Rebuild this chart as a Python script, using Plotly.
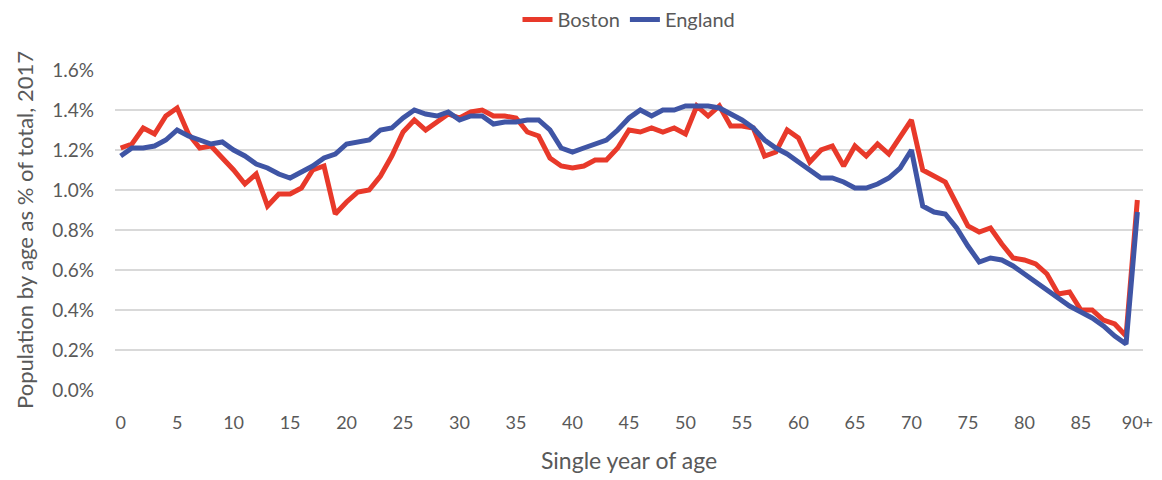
import plotly.graph_objects as go

# Single year of age, 0..89 then 90+
ages = list(range(91))
age_labels = [str(a) for a in range(90)] + ["90+"]

# Share of total population at each age, 2017 (%)
boston = [
    1.21, 1.23, 1.31, 1.28, 1.37, 1.41, 1.28, 1.21, 1.22, 1.16,
    1.10, 1.03, 1.08, 0.92, 0.98, 0.98, 1.01, 1.10, 1.12, 0.88,
    0.94, 0.99, 1.00, 1.07, 1.17, 1.29, 1.35, 1.30, 1.34, 1.38,
    1.36, 1.39, 1.40, 1.37, 1.37, 1.36, 1.29, 1.27, 1.16, 1.12,
    1.11, 1.12, 1.15, 1.15, 1.21, 1.30, 1.29, 1.31, 1.29, 1.31,
    1.28, 1.42, 1.37, 1.42, 1.32, 1.32, 1.31, 1.17, 1.19, 1.30,
    1.26, 1.14, 1.20, 1.22, 1.12, 1.22, 1.17, 1.23, 1.18, 1.27,
    1.35, 1.10, 1.07, 1.04, 0.93, 0.82, 0.79, 0.81, 0.73, 0.66,
    0.65, 0.63, 0.58, 0.48, 0.49, 0.40, 0.40, 0.35, 0.33, 0.27,
    0.95,
]
england = [
    1.17, 1.21, 1.21, 1.22, 1.25, 1.30, 1.27, 1.25, 1.23, 1.24,
    1.20, 1.17, 1.13, 1.11, 1.08, 1.06, 1.09, 1.12, 1.16, 1.18,
    1.23, 1.24, 1.25, 1.30, 1.31, 1.36, 1.40, 1.38, 1.37, 1.39,
    1.35, 1.37, 1.37, 1.33, 1.34, 1.34, 1.35, 1.35, 1.30, 1.21,
    1.19, 1.21, 1.23, 1.25, 1.30, 1.36, 1.40, 1.37, 1.40, 1.40,
    1.42, 1.42, 1.42, 1.41, 1.38, 1.35, 1.31, 1.25, 1.21, 1.18,
    1.14, 1.10, 1.06, 1.06, 1.04, 1.01, 1.01, 1.03, 1.06, 1.11,
    1.20, 0.92, 0.89, 0.88, 0.81, 0.72, 0.64, 0.66, 0.65, 0.62,
    0.58, 0.54, 0.50, 0.46, 0.42, 0.39, 0.36, 0.32, 0.27, 0.23,
    0.89,
]

y_ticks = [0.0, 0.2, 0.4, 0.6, 0.8, 1.0, 1.2, 1.4, 1.6]
x_ticks = list(range(0, 91, 5))

font_family = "Lato, 'Open Sans', sans-serif"
grey = "#595959"

fig = go.Figure()
fig.add_trace(go.Scatter(
    x=ages, y=boston, mode="lines", name="Boston",
    line=dict(color="#E8392A", width=5),
))
fig.add_trace(go.Scatter(
    x=ages, y=england, mode="lines", name="England",
    line=dict(color="#3F55A5", width=5),
))

fig.update_layout(
    width=1162, height=480,
    margin=dict(l=115, r=9, t=70, b=90),
    paper_bgcolor="white", plot_bgcolor="white",
    font=dict(family=font_family, color=grey, size=18),
    showlegend=True,
    legend=dict(
        orientation="h", x=0.5, xanchor="center", y=1.0, yref="container",
        yanchor="top", font=dict(size=20, color=grey),
        tracegroupgap=0,
    ),
    xaxis=dict(
        range=[-0.5, 90.5],
        tickmode="array",
        tickvals=x_ticks,
        ticktext=[age_labels[i] for i in x_ticks],
        showgrid=False, zeroline=False, showline=False,
        ticks="", ticklabelstandoff=20, ticklabeloverflow="allow",
        tickfont=dict(size=18, color=grey),
        title=dict(text="Single year of age", font=dict(size=23, color=grey), standoff=20),
    ),
    yaxis=dict(
        range=[0, 1.6],
        tickmode="array",
        tickvals=y_ticks,
        ticktext=[f"{v:.1f}%" for v in y_ticks],
        showgrid=True, gridcolor="#D9D9D9", gridwidth=1.5,
        zeroline=False, showline=False, ticks="",
        ticklabelstandoff=20,
        tickfont=dict(size=19, color=grey),
        title=dict(text="Population by age as % of total, 2017",
                   font=dict(size=22, color=grey), standoff=12),
    ),
)

fig.write_html("out.html")
